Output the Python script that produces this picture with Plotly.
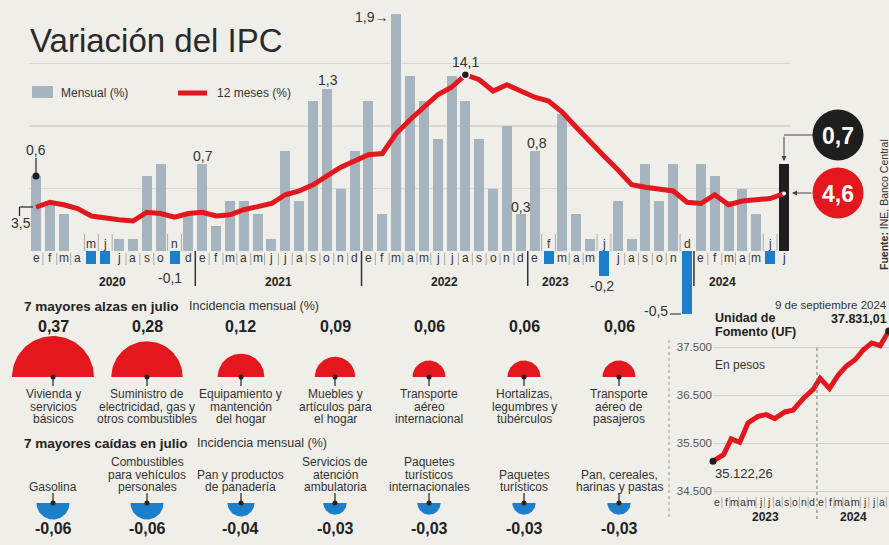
import math
import plotly.graph_objects as go

W, H = 889, 545
BG = '#efeee9'
GREY = '#a5b4be'
BLUE = '#1b7fcb'
RED = '#e3171d'
BLACK = '#1e1e1e'
TXT = '#333333'
FONT = 'Liberation Sans Narrow, Liberation Sans, Arial, sans-serif'

# ---------------- data ----------------
MONTHS = ['e', 'f', 'm', 'a', 'm', 'j', 'j', 'a', 's', 'o', 'n', 'd']
YEARS = ['2020', '2021', '2022', '2023', '2024']
MENSUAL = [
    0.6, 0.4, 0.3, 0.0, -0.1, -0.1, 0.1, 0.1, 0.6, 0.7, -0.1, 0.3,   # 2020
    0.7, 0.2, 0.4, 0.4, 0.3, 0.1, 0.8, 0.4, 1.2, 1.3, 0.5, 0.8,      # 2021
    1.2, 0.3, 1.9, 1.4, 1.2, 0.9, 1.4, 1.2, 0.9, 0.5, 1.0, 0.3,      # 2022
    0.8, -0.1, 1.1, 0.3, 0.1, -0.2, 0.4, 0.1, 0.7, 0.4, 0.7, -0.5,   # 2023
    0.7, 0.6, 0.4, 0.5, 0.3, -0.1, 0.7,                              # 2024
]
DOCE_MESES = [
    3.5, 3.9, 3.7, 3.4, 2.8, 2.6, 2.5, 2.4, 3.1, 3.0, 2.7, 3.0,
    3.1, 2.8, 2.9, 3.3, 3.6, 3.8, 4.5, 4.8, 5.3, 6.0, 6.7, 7.2,
    7.7, 7.8, 9.4, 10.5, 11.5, 12.5, 13.1, 14.1, 13.7, 12.8, 13.3, 12.8,
    12.3, 12.0, 11.1, 9.9, 8.7, 7.6, 6.5, 5.3, 5.1, 5.0, 4.8, 3.9,
    3.8, 4.5, 3.7, 4.0, 4.1, 4.2, 4.6,
]

ALZAS_VALUES = [0.37, 0.28, 0.12, 0.09, 0.06, 0.06, 0.06]
ALZAS_LABELS = [
    ['Vivienda y', 'servicios', 'básicos'],
    ['Suministro de', 'electricidad, gas y', 'otros combustibles'],
    ['Equipamiento y', 'mantención', 'del hogar'],
    ['Muebles y', 'artículos para', 'el hogar'],
    ['Transporte', 'aéreo', 'internacional'],
    ['Hortalizas,', 'legumbres y', 'tubérculos'],
    ['Transporte', 'aéreo de', 'pasajeros'],
]
CAIDAS_VALUES = [-0.06, -0.06, -0.04, -0.03, -0.03, -0.03, -0.03]
CAIDAS_LABELS = [
    ['Gasolina'],
    ['Combustibles', 'para vehículos', 'personales'],
    ['Pan y productos', 'de panadería'],
    ['Servicios de', 'atención', 'ambulatoria'],
    ['Paquetes', 'turísticos', 'internacionales'],
    ['Paquetes', 'turísticos'],
    ['Pan, cereales,', 'harinas y pastas'],
]

UF_DATES = ['2023-01-01', '2023-02-07', '2023-03-06', '2023-04-05', '2023-05-04',
            '2023-06-08', '2023-07-07', '2023-08-06', '2023-09-10', '2023-10-09',
            '2023-11-14', '2023-12-19', '2024-01-12', '2024-02-14', '2024-03-16',
            '2024-04-14', '2024-05-14', '2024-06-12', '2024-07-11', '2024-08-10',
            '2024-09-09']
UF_VALUES = [35122.26, 35257, 35586, 35516, 35916, 36056, 36091, 36007, 36147, 36182,
             36427, 36617, 36848, 36638, 36918, 37107, 37234, 37444, 37584, 37528,
             37831.01]
UF_TICKS = [34500, 35500, 36500, 37500]
UF_MONTHS = ['e', 'f', 'm', 'a', 'm', 'j', 'j', 'a', 's', 'o', 'n', 'd',
             'e', 'f', 'm', 'a', 'm', 'j', 'j', 'a', 's']


def fmt(v, dec=1):
    return f'{v:.{dec}f}'.replace('.', ',')


def fmt_cl(v, dec=2):
    return f'{v:,.{dec}f}'.replace(',', '#').replace('.', ',').replace('#', '.')


def px(x):
    return x / W


def py(y):
    return 1 - y / H


fig = go.Figure()
annotations = []
shapes = []


def txt(x, y, s, size=13, color=TXT, xanchor='center', yanchor='middle',
        xref='paper', angle=0, family=FONT):
    annotations.append(dict(
        x=(x if xref != 'paper' else px(x)), y=py(y), xref=xref, yref='paper',
        text=s, showarrow=False, xanchor=xanchor, yanchor=yanchor, borderpad=0,
        textangle=angle, font=dict(family=family, size=size, color=color)))


def line(x0, y0, x1, y1, color='#555', width=1, xref='paper', dash='solid'):
    shapes.append(dict(
        type='line', xref=xref, yref='paper',
        x0=(x0 if xref != 'paper' else px(x0)), y0=py(y0),
        x1=(x1 if xref != 'paper' else px(x1)), y1=py(y1),
        line=dict(color=color, width=width, dash=dash)))


# ---------------- main chart ----------------
n = len(MENSUAL)
idx = list(range(n))
colors = []
for i, v in enumerate(MENSUAL):
    if i == n - 1:
        colors.append(BLACK)
    elif v < 0:
        colors.append(BLUE)
    else:
        colors.append(GREY)

fig.add_trace(go.Bar(x=idx, y=MENSUAL, width=0.72, marker=dict(color=colors, line_width=0),
                     xaxis='x', yaxis='y', hoverinfo='skip', showlegend=False))
fig.add_trace(go.Scatter(x=idx, y=DOCE_MESES, mode='lines',
                         line=dict(color=RED, width=5, shape='linear'),
                         xaxis='x', yaxis='y2', hoverinfo='skip', showlegend=False))
fig.add_trace(go.Scatter(x=[0], y=[MENSUAL[0]], mode='markers',
                         marker=dict(color=BLACK, size=7), xaxis='x', yaxis='y',
                         hoverinfo='skip', showlegend=False, cliponaxis=False))
peak = DOCE_MESES.index(max(DOCE_MESES))
fig.add_trace(go.Scatter(x=[peak], y=[DOCE_MESES[peak]], mode='markers',
                         marker=dict(color=BLACK, size=8, line=dict(color='white', width=1.5)),
                         xaxis='x', yaxis='y2', hoverinfo='skip', showlegend=False))
fig.add_trace(go.Scatter(x=[n - 1], y=[DOCE_MESES[-1]], mode='markers',
                         marker=dict(color='white', size=4), xaxis='x', yaxis='y2',
                         hoverinfo='skip', showlegend=False))

# month labels / separators
year_bounds = [11.5, 23.5, 35.5, 47.5]
for i in range(n):
    m = MONTHS[i % 12]
    if MENSUAL[i] < 0:
        txt(i, 244, m, size=12, xref='x')
    else:
        txt(i, 258, m, size=12, xref='x')
for i in range(n - 1):
    b = i + 0.5
    if b in year_bounds:
        continue
    if MENSUAL[i] < 0 or MENSUAL[i + 1] < 0:
        line(b, 234, b, 251, color='#999', width=0.8, xref='x')
    else:
        line(b, 253, b, 265, color='#999', width=0.8, xref='x')
for b in year_bounds:
    line(b, 251, b, 286, color='#333', width=1.5, xref='x')

YEAR_POS = [112, 278, 444, 555, 722]
for yx, yl in zip(YEAR_POS, YEARS):
    txt(yx, 282, '<b>' + yl + '</b>', size=12, color='#222')

# title and legend
txt(29, 40, 'Variación del IPC', size=33, color='#2a2a2a', xanchor='left')
shapes.append(dict(type='rect', xref='paper', yref='paper', x0=px(32), x1=px(53),
                   y0=py(98), y1=py(86), fillcolor=GREY, line_width=0))
txt(60, 93, 'Mensual (%)', size=12, xanchor='left')
line(178, 93, 207, 93, color=RED, width=5)
txt(216, 93, '12 meses (%)', size=12, xanchor='left')

# value callouts
txt(36, 150, fmt(MENSUAL[0]), size=14)
line(36, 158, 36, 176, color='#222', width=1.2)
txt(21, 223, fmt(DOCE_MESES[0]), size=14)
line(19.5, 207, 33, 207, color='#222', width=1.2)
line(19.5, 207, 19.5, 216, color='#222', width=1.2)
txt(203, 156, fmt(MENSUAL[12]), size=14)
txt(170, 278, fmt(MENSUAL[10]), size=14)
txt(328, 80, fmt(MENSUAL[21]), size=14)
txt(389, 17, fmt(MENSUAL[26]) + '→', size=14, xanchor='right')
txt(465, 62, fmt(DOCE_MESES[peak]), size=14)
txt(537, 143, fmt(MENSUAL[36]), size=14)
txt(521, 207, fmt(MENSUAL[35]), size=14)
txt(602, 286, fmt(MENSUAL[41]), size=14)
txt(656, 311, fmt(MENSUAL[47]), size=14)
line(670, 314, 681, 314, color='#222', width=1)

# big circles at the end
fig.add_trace(go.Scatter(x=[838, 838], y=[135, 193], mode='markers',
                         marker=dict(color=[BLACK, RED], size=51, line_width=0),
                         xaxis='x5', yaxis='y5', hoverinfo='skip', showlegend=False))
txt(838, 136, '<b>' + fmt(MENSUAL[-1]) + '</b>', size=23, color='white')
txt(838, 194, '<b>' + fmt(DOCE_MESES[-1]) + '</b>', size=23, color='white')
line(813, 135, 784, 135, color='#444', width=1)
annotations.append(dict(x=px(784), y=py(161), xref='paper', yref='paper', ax=0, ay=-26,
                        showarrow=True, arrowhead=2, arrowsize=1, arrowwidth=1,
                        arrowcolor='#444', text=''))
annotations.append(dict(x=px(792), y=py(193), xref='paper', yref='paper', ax=21, ay=0,
                        showarrow=True, arrowhead=2, arrowsize=1, arrowwidth=1,
                        arrowcolor='#444', text=''))

txt(884, 205, '<b>Fuente:</b> INE, Banco Central', size=10.5, angle=-90)

# ---------------- incidences ----------------
CX = [53, 147, 241, 335, 429, 524, 619]
K = 67.4
txt(23, 306, '<b>7 mayores alzas en julio</b>', size=13.5, color='#222', xanchor='left')
txt(188, 306, 'Incidencia mensual (%)', size=12.5, xanchor='left')
txt(23, 443, '<b>7 mayores caídas en julio</b>', size=13.5, color='#222', xanchor='left')
txt(196, 443, 'Incidencia mensual (%)', size=12.5, xanchor='left')

for cx, v, lab in zip(CX, ALZAS_VALUES, ALZAS_LABELS):
    r = K * math.sqrt(abs(v))
    ts = [math.pi * k / 60 for k in range(61)]
    fig.add_trace(go.Scatter(x=[cx + r * math.cos(t) for t in ts],
                             y=[377 - r * math.sin(t) for t in ts],
                             mode='lines', fill='toself', fillcolor=RED, line=dict(width=0, color=RED),
                             xaxis='x5', yaxis='y5', hoverinfo='skip', showlegend=False))
    txt(cx, 326, '<b>' + fmt(v, 2) + '</b>', size=16, color='#222')
    line(cx, 377, cx, 386, color='#222', width=1.2)
    for k, l in enumerate(lab):
        txt(cx, 394 + 12.5 * k, l, size=12)

for cx, v, lab in zip(CX, CAIDAS_VALUES, CAIDAS_LABELS):
    r = K * math.sqrt(abs(v))
    ts = [math.pi * k / 60 for k in range(61)]
    fig.add_trace(go.Scatter(x=[cx + r * math.cos(t) for t in ts],
                             y=[503 + r * math.sin(t) for t in ts],
                             mode='lines', fill='toself', fillcolor=BLUE, line=dict(width=0, color=BLUE),
                             xaxis='x5', yaxis='y5', hoverinfo='skip', showlegend=False))
    txt(cx, 528, '<b>' + fmt(v, 2) + '</b>', size=16, color='#222')
    line(cx, 503, cx, 493, color='#222', width=1.2)
    nl = len(lab)
    for k, l in enumerate(lab):
        txt(cx, 487 - 12.5 * (nl - 1 - k), l, size=12)

fig.add_trace(go.Scatter(x=CX + CX, y=[377] * 7 + [503] * 7, mode='markers',
                         marker=dict(color='#222', size=5), xaxis='x5', yaxis='y5',
                         hoverinfo='skip', showlegend=False))

# ---------------- UF chart ----------------
fig.add_trace(go.Scatter(x=UF_DATES, y=UF_VALUES, mode='lines',
                         line=dict(color=RED, width=5), xaxis='x4', yaxis='y4',
                         hoverinfo='skip', showlegend=False, cliponaxis=False))
fig.add_trace(go.Scatter(x=[UF_DATES[0], UF_DATES[-1]], y=[UF_VALUES[0], UF_VALUES[-1]],
                         mode='markers', marker=dict(color=BLACK, size=7),
                         xaxis='x4', yaxis='y4', hoverinfo='skip', showlegend=False,
                         cliponaxis=False))
txt(888, 305, '9 de septiembre 2024', size=11.5, xanchor='right')
txt(888, 319, '<b>' + fmt_cl(UF_VALUES[-1]) + '</b>', size=12.5, color='#222', xanchor='right')
txt(714, 318, '<b>Unidad de</b>', size=12.5, color='#222', xanchor='left')
txt(714, 332, '<b>Fomento (UF)</b>', size=12.5, color='#222', xanchor='left')
txt(714, 365, 'En pesos', size=12, xanchor='left')
txt(714, 473, fmt_cl(UF_VALUES[0]), size=13, xanchor='left')

for k, m in enumerate(UF_MONTHS):
    yr = 2023 + k // 12
    mo = k % 12 + 1
    txt(f'{yr}-{mo:02d}-16', 502, m, size=10.5, xref='x4')
    if k > 0 and mo != 1:
        line(f'{yr}-{mo:02d}-01', 497, f'{yr}-{mo:02d}-01', 508, color='#999', width=0.8, xref='x4')
line('2024-01-01', 348, '2024-01-01', 521, color='#777', width=1, xref='x4', dash='dot')
line(669, 340, 669, 518, color='#999', width=1, dash='dot')
txt(765, 517, '<b>2023</b>', size=12, color='#222')
txt(853, 517, '<b>2024</b>', size=12, color='#222')

# ---------------- layout ----------------
main_l, main_r = 36 - 0.5 * 13.852, 784 + 0.5 * 13.852
fig.update_layout(
    width=W, height=H, margin=dict(l=0, r=0, t=0, b=0),
    paper_bgcolor=BG, plot_bgcolor='rgba(0,0,0,0)',
    font=dict(family=FONT, color=TXT), showlegend=False, bargap=0,
    xaxis=dict(domain=[px(main_l), px(main_r)], range=[-0.5, n - 0.5], visible=False,
               fixedrange=True),
    yaxis=dict(domain=[py(326), py(1)], range=[-0.6, 2.0], showgrid=True,
               gridcolor='#d8d8d2', gridwidth=1.5, tickvals=[0.5, 1.0, 1.5],
               showticklabels=False, zeroline=False, showline=False, ticks=''),
    yaxis2=dict(overlaying='y', range=[-6, 20], visible=False),
    xaxis4=dict(domain=[px(713), 1.0], range=['2023-01-01', '2024-09-10'], type='date',
                visible=False, anchor='y4'),
    yaxis4=dict(domain=[py(500.6), py(330.2)], range=[34300, 37850], anchor='x4',
                tickvals=UF_TICKS,
                ticktext=[f'{v:,}'.replace(',', '.') for v in UF_TICKS],
                showgrid=True, gridcolor='#cfcfc9', gridwidth=1, zeroline=False,
                showline=False, ticks='', tickfont=dict(size=11.5, color='#555', family=FONT)),
    xaxis5=dict(domain=[0, 1], range=[0, W], visible=False, anchor='y5'),
    yaxis5=dict(domain=[0, 1], range=[H, 0], visible=False, anchor='x5'),
    annotations=annotations, shapes=shapes,
)

fig.write_html('out.html', config={'displayModeBar': False, 'staticPlot': True},
               post_script="document.body.style.margin='0';document.body.style.overflow='hidden';")
